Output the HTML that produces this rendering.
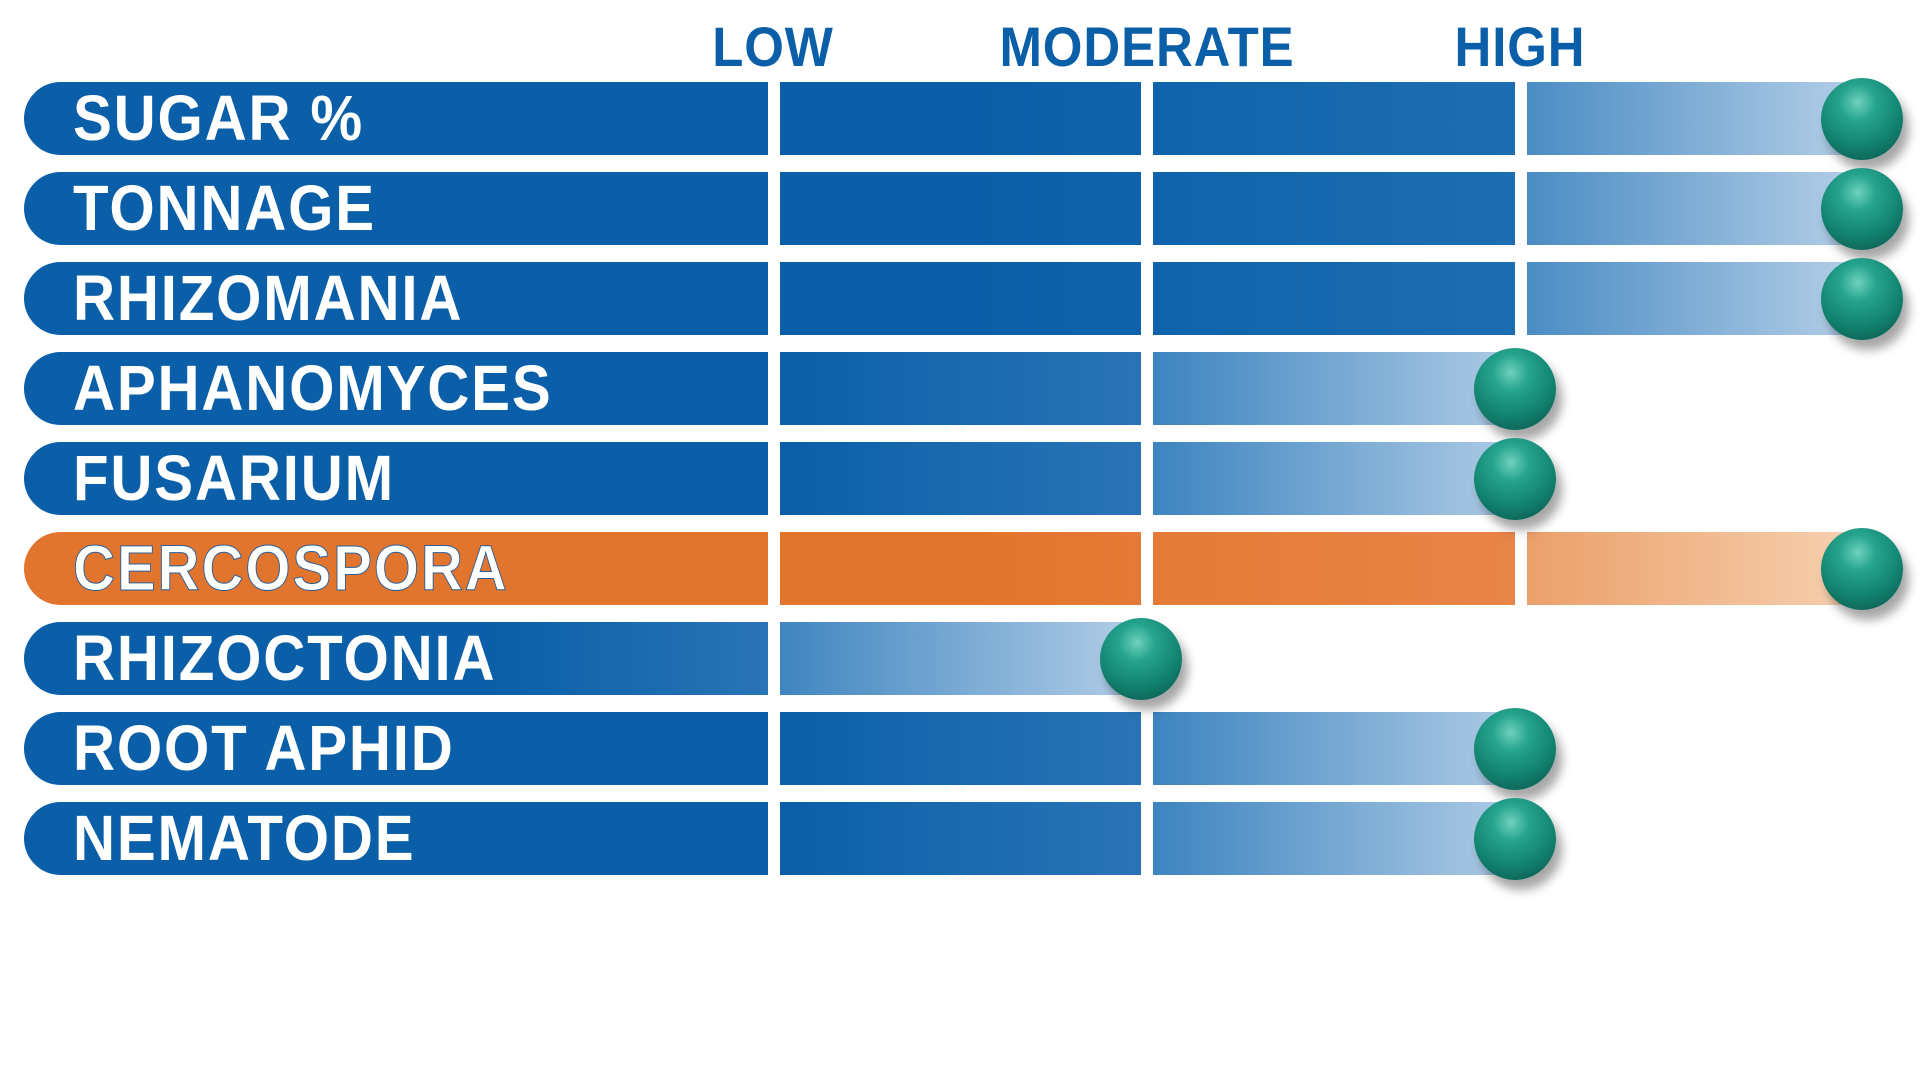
<!DOCTYPE html>
<html><head><meta charset="utf-8"><style>
body{margin:0;width:1920px;height:1080px;background:#fff;position:relative;overflow:hidden;font-family:"Liberation Sans Narrow","Liberation Sans",sans-serif;font-weight:bold}
.h{position:absolute;top:14px;font-size:56px;color:#0a5fa8;transform:translateX(-50%) scaleX(0.91);letter-spacing:1px}
.bar{position:absolute;left:24px;height:73px;border-radius:38px 0 0 38px}
.lab{position:absolute;left:73px;font-size:64px;color:#fff;line-height:73px;letter-spacing:2px;transform:scaleX(0.91);transform-origin:0 50%}
.gap{position:absolute;width:12px;top:78px;height:806px;background:#fff}
.ball{position:absolute;width:82px;height:82px;border-radius:50%;background:radial-gradient(circle at 45% 30%,#6fd1bd 0%,#25a48e 25%,#12826f 60%,#0a4d45 100%);box-shadow:6px 10px 10px rgba(0,0,0,0.35)}
</style></head><body>
<div class="h" style="left:773px">LOW</div>
<div class="h" style="left:1147px">MODERATE</div>
<div class="h" style="left:1520px">HIGH</div>

<div class="bar" style="top:82px;width:1837px;background:linear-gradient(90deg,#0a5fa8 0px,#0a5fa8 950px,#1d6db1 1491px,#4a8cc4 1503px,#b5cfe7 1837px)"></div>
<div class="bar" style="top:172px;width:1837px;background:linear-gradient(90deg,#0a5fa8 0px,#0a5fa8 950px,#1d6db1 1491px,#4a8cc4 1503px,#b5cfe7 1837px)"></div>
<div class="bar" style="top:262px;width:1837px;background:linear-gradient(90deg,#0a5fa8 0px,#0a5fa8 950px,#1d6db1 1491px,#4a8cc4 1503px,#b5cfe7 1837px)"></div>
<div class="bar" style="top:352px;width:1491px;background:linear-gradient(90deg,#0a5fa8 0px,#0a5fa8 756px,#2a74b6 1117px,#3d84c0 1129px,#aecbe5 1491px)"></div>
<div class="bar" style="top:442px;width:1491px;background:linear-gradient(90deg,#0a5fa8 0px,#0a5fa8 756px,#2a74b6 1117px,#3d84c0 1129px,#aecbe5 1491px)"></div>
<div class="bar" style="top:532px;width:1837px;background:linear-gradient(90deg,#e2752d 0px,#e2752d 950px,#e88548 1491px,#eba06a 1503px,#f6d0b0 1837px)"></div>
<div class="bar" style="top:622px;width:1117px;background:linear-gradient(90deg,#0a5fa8 0px,#0a5fa8 466px,#2a74b5 744px,#3f85c0 756px,#b3cee7 1117px)"></div>
<div class="bar" style="top:712px;width:1491px;background:linear-gradient(90deg,#0a5fa8 0px,#0a5fa8 756px,#2a74b6 1117px,#3d84c0 1129px,#aecbe5 1491px)"></div>
<div class="bar" style="top:802px;width:1491px;background:linear-gradient(90deg,#0a5fa8 0px,#0a5fa8 756px,#2a74b6 1117px,#3d84c0 1129px,#aecbe5 1491px)"></div>

<div class="gap" style="left:768px"></div>
<div class="gap" style="left:1141px"></div>
<div class="gap" style="left:1515px"></div>

<div class="lab" style="top:82px">SUGAR %</div>
<div class="lab" style="top:172px">TONNAGE</div>
<div class="lab" style="top:262px">RHIZOMANIA</div>
<div class="lab" style="top:352px">APHANOMYCES</div>
<div class="lab" style="top:442px">FUSARIUM</div>
<div class="lab" style="top:532px;-webkit-text-stroke:1px #2a5f9a">CERCOSPORA</div>
<div class="lab" style="top:622px">RHIZOCTONIA</div>
<div class="lab" style="top:712px">ROOT APHID</div>
<div class="lab" style="top:802px">NEMATODE</div>

<div class="ball" style="left:1821px;top:78px"></div>
<div class="ball" style="left:1821px;top:168px"></div>
<div class="ball" style="left:1821px;top:258px"></div>
<div class="ball" style="left:1474px;top:348px"></div>
<div class="ball" style="left:1474px;top:438px"></div>
<div class="ball" style="left:1821px;top:528px"></div>
<div class="ball" style="left:1100px;top:618px"></div>
<div class="ball" style="left:1474px;top:708px"></div>
<div class="ball" style="left:1474px;top:798px"></div>
</body></html>
